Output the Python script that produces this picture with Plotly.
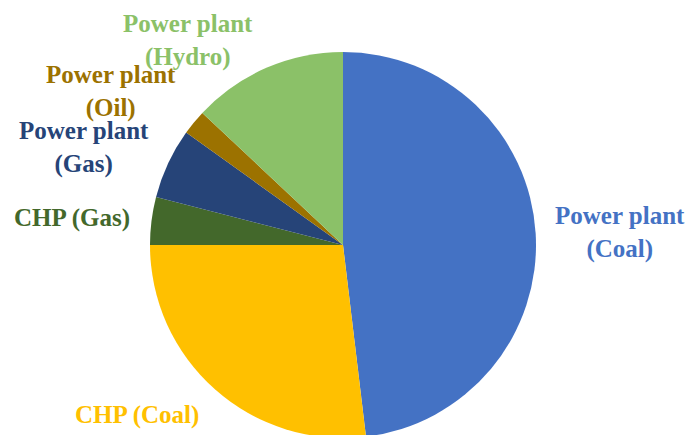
import plotly.graph_objects as go

categories = ["Power plant (Coal)", "CHP (Coal)", "CHP (Gas)", "Power plant (Gas)", "Power plant (Oil)", "Power plant (Hydro)"]
values = [48.1, 26.9, 4.0, 5.9, 2.1, 13.0]
label_texts = ["Power plant<br>(Coal)", "CHP (Coal)", "CHP (Gas)", "Power plant<br>(Gas)", "Power plant<br>(Oil)", "Power plant<br>(Hydro)"]

colors = ["#4472C4", "#FFC000", "#43682B", "#264478", "#9C7200", "#8BC168"]
# page offset (HTML body margin) compensation
OFF = 8
label_pos = [(620, 232), (137, 415), (72, 218), (84, 147), (111, 91), (188, 40)]

W, H = 695, 435
cx, cy, r = 343 - OFF, 245 - OFF, 193
fig = go.Figure(go.Pie(
    labels=categories, values=values, sort=False, direction="clockwise", rotation=0,
    marker=dict(colors=colors, line=dict(width=0)),
    textinfo="none", hoverinfo="label+percent", showlegend=False,
    domain=dict(x=[(cx - r) / W, (cx + r) / W], y=[(H - cy - r) / H, (H - cy + r) / H]),
))

for txt, col, (px, py) in zip(label_texts, colors, label_pos):
    fig.add_annotation(x=(px - OFF) / W, y=1 - (py - OFF) / H, xref="paper", yref="paper", text=txt,
                       showarrow=False, xanchor="center", yanchor="middle",
                       font=dict(family="Liberation Serif", size=25, color=col, weight="bold"))

fig.update_layout(width=W, height=H, margin=dict(l=0, r=0, t=0, b=0),
                  paper_bgcolor="white", plot_bgcolor="white")
fig.write_html("out.html")
